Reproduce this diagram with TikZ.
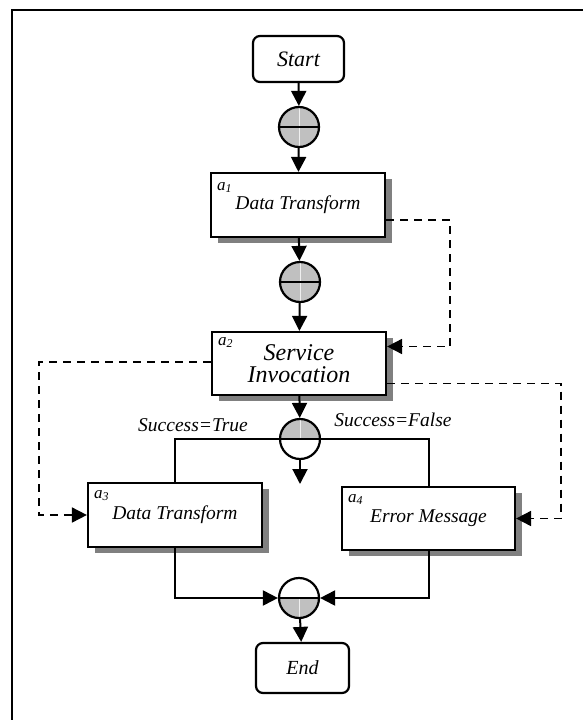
\documentclass[tikz,border=0pt]{standalone}
\usepackage{fontspec}
\setmainfont{Liberation Serif}
\usetikzlibrary{arrows.meta,shadows}

\definecolor{gwfill}{HTML}{C0C0C0}
\definecolor{shade}{HTML}{808080}

\begin{document}
\begin{tikzpicture}[x=1pt,y=-1pt,
  tip/.style={-{Triangle[length=15pt,width=15pt]}},
  flow/.style={line width=2pt},
  link/.style={line width=1.8pt, dash pattern=on 8pt off 6pt},
  task/.style={draw, line width=2.2pt, fill=white, inner sep=0pt, align=center,
    minimum width=174pt, minimum height=64pt,
    font=\itshape\fontsize{19.5}{22}\selectfont,
    drop shadow={shadow xshift=7pt, shadow yshift=-6pt, fill=shade, opacity=1}},
  term/.style={draw, line width=2.2pt, rounded corners=7pt, fill=white, inner sep=0pt},
  tag/.style={anchor=north west, inner sep=0pt, font=\itshape\fontsize{17}{17}\selectfont},
  cond/.style={inner sep=0pt, font=\itshape\fontsize{19.5}{22}\selectfont},
  gwbase/.style={circle, draw, line width=2.2pt, minimum size=40pt, inner sep=0pt, fill=white},
  gwfull/.style={gwbase, path picture={
      \fill[gwfill] (path picture bounding box.north west) rectangle (path picture bounding box.south east);
      \draw[white!75!gwfill, line width=0.6pt] (path picture bounding box.north) -- (path picture bounding box.south);
      \draw[line width=2pt] (path picture bounding box.west) -- (path picture bounding box.east);}},
  gwtop/.style={gwbase, path picture={
      \fill[gwfill] (path picture bounding box.north west) rectangle (path picture bounding box.east);
      \draw[white!75!gwfill, line width=0.6pt] (path picture bounding box.north) -- (path picture bounding box.center);
      \draw[line width=2pt] (path picture bounding box.west) -- (path picture bounding box.east);}},
  gwbottom/.style={gwbase, path picture={
      \fill[gwfill] (path picture bounding box.west) rectangle (path picture bounding box.south east);
      \draw[white!75!gwfill, line width=0.6pt] (path picture bounding box.center) -- (path picture bounding box.south);
      \draw[line width=2pt] (path picture bounding box.west) -- (path picture bounding box.east);}}
]
\useasboundingbox (0,0) rectangle (583,720);

% frame
\draw[line width=2pt] (12,720) -- (12,10) -- (583,10);

% terminals
\node[term, minimum width=91pt, minimum height=46pt, font=\itshape\fontsize{22}{24}\selectfont] (start) at (298.5,59) {Start};
\node[term, minimum width=93pt, minimum height=50pt, font=\itshape\fontsize{20}{22}\selectfont] (end) at (302.5,668) {End};

% gateways
\node[gwfull] (g1) at (299,127) {};
\node[gwfull] (g2) at (300,282) {};
\node[gwtop] (g3) at (300,439) {};
\node[gwbottom] (g4) at (299,598) {};
\coordinate (gout) at (300,484);

% activities
\node[task] (a1) at (298,205) {Data Transform};
\node[task, minimum height=63pt, font=\itshape\fontsize{24}{22.5}\selectfont] (a2) at (299,363.5) {Service\\Invocation};
\node[task] (a3) at (175,515) {Data Transform};
\node[task, minimum width=173pt, minimum height=63pt] (a4) at (428.5,518.5) {Error Message};

\node[tag] (a1t) at ([shift={(7pt,-10pt)}]a1.north west) {a\textsubscript{1}};
\node[tag] (a2t) at ([shift={(7pt,-6pt)}]a2.north west) {a\textsubscript{2}};
\node[tag] (a3t) at ([shift={(7pt,-8pt)}]a3.north west) {a\textsubscript{3}};
\node[tag] (a4t) at ([shift={(7pt,-8pt)}]a4.north west) {a\textsubscript{4}};

% branch conditions
\node[cond] (ctrue) at (193,425) {Success=True};
\node[cond] (cfalse) at (393,420) {Success=False};

% control flow
\draw[flow, tip] (start) -- (g1);
\draw[flow, tip] (g1) -- (a1);
\draw[flow, tip] (a1) -- (g2);
\draw[flow, tip] (g2) -- (a2);
\draw[flow, tip] (a2) -- (g3);
\draw[flow, tip] (g3) -- (gout);
\draw[flow] (g3.west) -| (a3.north);
\draw[flow] (g3.east) -| (a4.north);
\draw[flow, tip] (a3.south) |- (g4.west);
\draw[flow, tip] (a4.south) |- (g4.east);
\draw[flow, tip] (g4) -- (end);

% data links
\draw[link, tip] ([yshift=-15pt]a1.east) -- ++(64,0) |- ([yshift=17pt]a2.east);
\draw[link, tip] ([yshift=1.5pt]a2.west) -- ++(-172,0) |- (a3.west);
\draw[link, tip] ([yshift=-20pt]a2.east) -- ++(174,0) |- (a4.east);
\end{tikzpicture}
\end{document}
